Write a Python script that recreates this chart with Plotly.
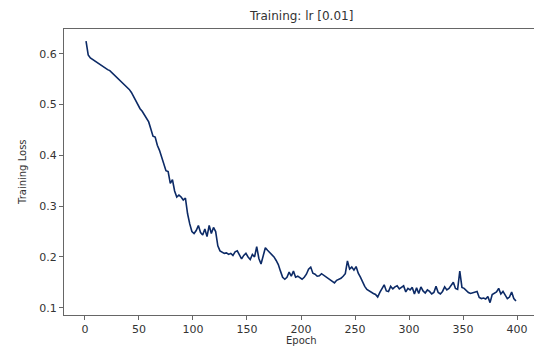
import plotly.graph_objects as go

# Training loss read every 2 epochs (epochs 1, 3, 5, ... 399)
loss = [
    0.625, 0.598, 0.592, 0.589, 0.587, 0.584, 0.581, 0.578, 0.575, 0.572,
    0.569, 0.567, 0.563, 0.559, 0.555, 0.551, 0.547, 0.543, 0.539, 0.535,
    0.530, 0.524, 0.516, 0.507, 0.499, 0.492, 0.487, 0.480, 0.472, 0.466,
    0.452, 0.438,
    0.436, 0.420, 0.410, 0.398, 0.385, 0.370, 0.368, 0.345, 0.352, 0.330,
    0.318, 0.322, 0.318, 0.312, 0.316, 0.285, 0.265, 0.250,
    0.246, 0.252, 0.262, 0.248, 0.243, 0.255, 0.240, 0.262, 0.246, 0.258,
    0.250, 0.222, 0.212,
    0.210, 0.207, 0.208, 0.205, 0.207, 0.203, 0.210, 0.212, 0.204, 0.196,
    0.203, 0.207, 0.200, 0.195, 0.205, 0.200, 0.220, 0.197, 0.186, 0.203,
    0.218, 0.213, 0.209, 0.205, 0.200, 0.193, 0.185, 0.172,
    0.160, 0.156, 0.160, 0.170, 0.162, 0.172, 0.160, 0.162, 0.158, 0.156,
    0.160, 0.166, 0.176, 0.180, 0.168, 0.166, 0.162, 0.163, 0.167, 0.164,
    0.160, 0.158, 0.155, 0.151, 0.149, 0.154, 0.156, 0.158, 0.162, 0.167,
    0.192, 0.176, 0.180, 0.174, 0.181, 0.168, 0.160, 0.150, 0.142, 0.136,
    0.133,
    0.130, 0.128, 0.126, 0.121, 0.130, 0.138, 0.145, 0.133, 0.132, 0.142,
    0.137, 0.141, 0.143, 0.137, 0.141, 0.143, 0.131, 0.138, 0.135, 0.140,
    0.127, 0.139, 0.128, 0.141, 0.133, 0.129, 0.135, 0.132, 0.127, 0.130,
    0.142, 0.130, 0.127, 0.132, 0.141, 0.135,
    0.138, 0.144, 0.150, 0.138, 0.136, 0.172, 0.140, 0.138, 0.133, 0.130,
    0.128, 0.129, 0.131, 0.132, 0.120, 0.118, 0.119, 0.117, 0.122, 0.110,
    0.126, 0.128, 0.131, 0.138, 0.127, 0.132, 0.126, 0.118, 0.121, 0.131,
    0.118, 0.113,
]
epochs = list(range(1, 2 * len(loss), 2))

x_ticks = [0, 50, 100, 150, 200, 250, 300, 350, 400]
y_ticks = [0.1, 0.2, 0.3, 0.4, 0.5, 0.6]
title_text = "Training: lr [0.01]"
x_label = "Epoch"
y_label = "Training Loss"

W, H = 534, 347
ML, MR, MT, MB = 64, 0, 29, 32

fig = go.Figure()
fig.add_trace(go.Scatter(
    x=epochs, y=loss, mode="lines",
    line=dict(color="#0c2a66", width=1.6),
    showlegend=False,
))

font = dict(family="DejaVu Sans", size=11, color="#333333")
axis_common = dict(
    showgrid=False, zeroline=False, automargin=False,
    showline=True, linecolor="#666666", linewidth=1,
    ticks="outside", ticklen=4, tickcolor="#666666",
    tickfont=dict(family="DejaVu Sans", size=11, color="#333333"),
)

fig.update_layout(
    width=W, height=H,
    margin=dict(l=ML, r=MR, t=MT, b=MB, pad=0, autoexpand=False),
    paper_bgcolor="white", plot_bgcolor="white",
    font=font,
    xaxis=dict(range=[-19.4, 415.7], tickvals=x_ticks, mirror=True, **axis_common),
    yaxis=dict(range=[0.0856, 0.649], tickvals=y_ticks, tickformat=".1f", **axis_common),
    annotations=[
        dict(text=title_text, xref="paper", yref="paper",
             x=(301 - ML) / (W - ML - MR), y=1 + (MT - 16) / (H - MT - MB),
             xanchor="center", yanchor="middle", showarrow=False,
             font=dict(family="DejaVu Sans", size=12, color="#333333")),
        dict(text=x_label, xref="paper", yref="paper",
             x=(301 - ML) / (W - ML - MR), y=-(340 - (H - MB)) / (H - MT - MB),
             xanchor="center", yanchor="middle", showarrow=False,
             font=dict(family="DejaVu Sans", size=10, color="#333333")),
        dict(text=y_label, xref="paper", yref="paper",
             x=-(ML - 22) / (W - ML - MR), y=0.5,
             xanchor="center", yanchor="middle", showarrow=False, textangle=-90,
             font=dict(family="DejaVu Sans", size=10, color="#333333")),
    ],
)

fig.write_html(
    "out.html",
    config={"displayModeBar": False},
    post_script="document.body.style.margin='0';document.body.style.overflow='hidden';",
)
